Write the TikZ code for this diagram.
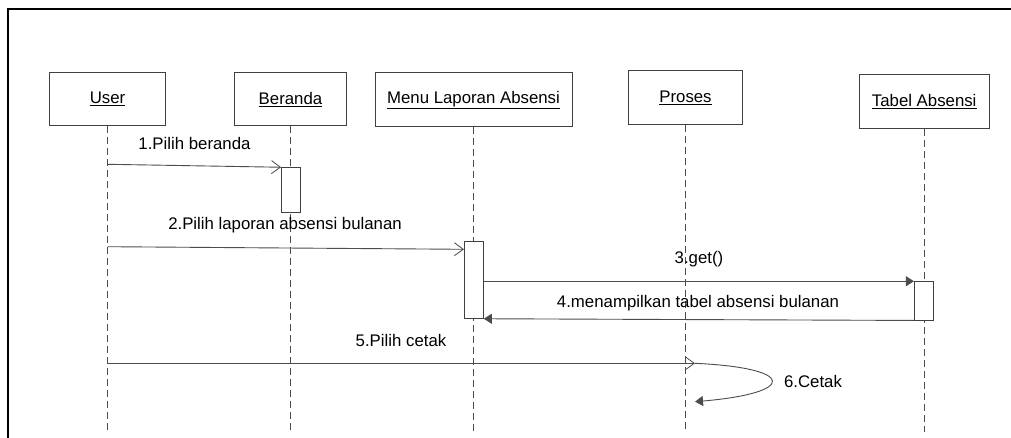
\documentclass[tikz,border=0pt]{standalone}
\usepackage{fontspec}
\setmainfont{Liberation Sans}
\usetikzlibrary{arrows.meta}
\begin{document}
\begin{tikzpicture}[x=1pt,y=-1pt,
  txt/.style={font=\fontsize{16.8}{20}\selectfont},
  obj/.style={txt, draw=black!75, line width=0.9pt, fill=white, inner sep=0pt},
  life/.style={draw=black!70, line width=0.8pt, dash pattern=on 7pt off 4pt},
  act/.style={draw=black!75, line width=0.9pt, fill=white, inner sep=0pt, minimum width=19.3pt},
  msg/.style={draw=black!70, line width=0.9pt},
  syncarrow/.style={-{Straight Barb[length=9pt,width=13pt,line width=0.8pt]}},
  filledarrow/.style={-{Triangle[length=8pt,width=10pt]}},
  lbl/.style={txt, inner sep=0pt}
]
\useasboundingbox (0,0) rectangle (1011,438);
\fill[white] (0,0) rectangle (1011,438);
% frame
\coordinate (fb) at (8,440);
\coordinate (ftl) at (8,9.3);
\coordinate (fr) at (1013,9.3);
\draw[black, line width=2pt] (fb) -- (ftl) -- (fr);

% objects
\node[obj, minimum width=115.7pt, minimum height=53pt] (user) at (107.5,99.2) {\underline{User}};
\node[obj, minimum width=112.7pt, minimum height=53pt] (beranda) at (290.5,99.2) {\underline{Beranda}};
\node[obj, minimum width=197pt, minimum height=54pt] (menu) at (473.5,99.7) {\underline{Menu Laporan Absensi}};
\node[obj, minimum width=114.4pt, minimum height=53.6pt] (proses) at (685.5,97.5) {\underline{Proses}};
\node[obj, minimum width=129.7pt, minimum height=54.4pt] (tabel) at (924.2,101.5) {\underline{Tabel Absensi}};

% lifeline ends
\coordinate (userEnd) at (107.5,432);
\coordinate (berandaEnd) at (290.7,432);
\coordinate (menuEnd) at (473.3,432);
\coordinate (prosesEnd) at (685,432);
\coordinate (tabelEnd) at (924.3,432);
\draw[life] (user.south) -- (userEnd);
\draw[life] (beranda.south -| berandaEnd) -- (berandaEnd);
\draw[life] (menu.south -| menuEnd) -- (menuEnd);
\draw[life] (proses.south -| prosesEnd) -- (prosesEnd);
\draw[life] (tabel.south -| tabelEnd) -- (tabelEnd);

% activations
\node[act, minimum height=45pt] (actB) at (291.2,190.2) {};
\node[act, minimum height=76.6pt] (actM) at (473.7,280) {};
\node[act, minimum height=38.3pt] (actT) at (924,300.85) {};

% message 1
\coordinate (m1s) at (107.5,164.3);
\draw[msg, syncarrow] (m1s) -- (actB.north west);
\node[lbl] (l1) at (194.5,143) {1.Pilih beranda};

% message 2
\coordinate (m2s) at (107.5,246.7);
\coordinate (m2e) at (464,249.3);
\draw[msg, syncarrow] (m2s) -- (m2e);
\node[lbl] (l2) at (285,225) {2.Pilih laporan absensi bulanan};

% message 3
\draw[msg, filledarrow] (actM.east |- actT.north) -- (actT.north west);
\node[lbl] (l3) at (699,259.3) {3.get()};

% message 4
\draw[msg, filledarrow] (actT.south west) -- (actM.south east);
\node[lbl] (l4) at (698,303.3) {4.menampilkan tabel absensi bulanan};

% message 5
\coordinate (m5s) at (107.5,363.3);
\coordinate (m5e) at (695,363.3);
\draw[msg, syncarrow] (m5s) -- (m5e);
\node[lbl] (l5) at (401,340) {5.Pilih cetak};

% message 6 (self)
\coordinate (m6e) at (695,401.7);
\draw[msg, filledarrow] (m5e) .. controls (797,368) and (797,393) .. (m6e);
\node[lbl] (l6) at (813,381.7) {6.Cetak};
\end{tikzpicture}
\end{document}
